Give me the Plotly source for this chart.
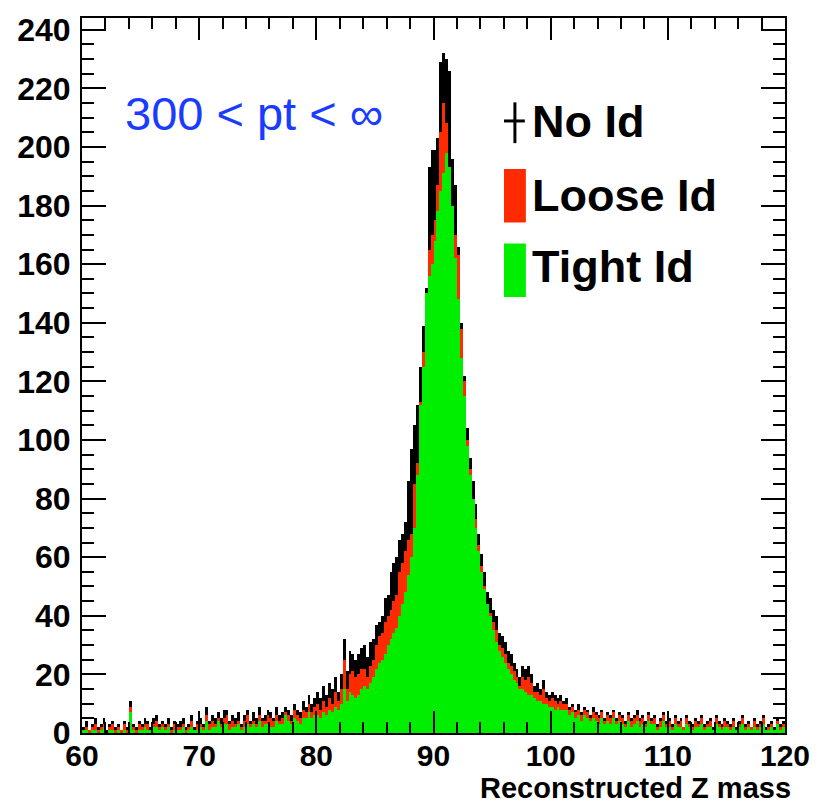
import numpy as np
import plotly.graph_objects as go

# ---------------- data ----------------
BIN_LO, BIN_HI, NBINS = 60.0, 120.0, 240

no_id = [
    2,4,1,3,5,2,3,5,1,3,4,2,3,1,4,2,11,3,2,4,
    3,5,4,2,5,6,3,4,3,5,2,4,3,4,5,2,3,6,2,4,
    5,3,9,4,6,5,7,5,8,8,4,6,5,7,3,6,8,4,7,5,
    9,5,6,8,7,5,9,6,7,9,8,6,10,8,7,11,9,13,10,12,
    14,12,16,13,17,15,19,14,20,32,21,28,27,25,27,29,
    30,26,31,32,37,38,40,46,47,55,58,60,66,68,72,86,
    97,105,112,125,139,152,193,199,199,203,229,232,230,226,196,187,
    166,140,122,104,94,86,78,68,61,55,48,46,42,40,34,33,
    31,28,27,24,22,19,23,22,23,20,16,17,15,18,14,13,14,13,12,13,
    11,12,9,10,8,10,7,9,8,6,9,7,6,8,5,7,
    6,8,5,7,6,4,7,5,6,8,5,6,4,7,5,6,3,5,7,4,
    5,3,6,4,5,2,6,4,3,5,4,6,3,4,5,2,6,4,3,5,
    4,3,5,2,4,6,3,4,2,5,3,4,6,2,3,4,2,5,3,4,
]

loose_id = [
    1,2,1,2,3,1,2,3,0,2,3,1,2,1,3,1,9,2,1,3,
    2,3,3,1,3,4,2,3,2,3,1,3,2,2,3,1,2,4,1,3,
    3,2,6,3,4,3,5,3,5,6,3,4,3,4,2,4,6,3,4,3,
    6,4,4,6,5,4,6,4,5,7,6,4,8,6,5,8,7,10,7,9,
    10,8,11,9,12,10,14,11,15,25,15,20,21,19,20,22,
    22,19,23,25,30,33,34,38,40,42,45,47,55,58,62,66,
    68,85,92,113,130,150,165,170,175,187,205,215,208,193,180,170,
    163,138,120,100,90,80,73,64,57,50,44,41,38,35,30,29,
    27,24,23,21,19,16,19,18,19,17,14,14,13,15,12,11,12,11,10,11,
    10,10,8,9,7,8,6,8,7,5,7,6,5,7,4,6,
    5,7,4,6,5,3,6,4,5,6,4,5,3,6,4,5,2,4,6,3,
    4,2,5,3,4,2,5,3,2,4,3,5,2,3,4,1,5,3,2,4,
    3,2,4,1,3,5,2,3,2,4,2,3,5,1,2,3,1,4,2,3,
]

tight_id = [
    1,1,0,1,1,0,1,2,0,1,1,0,1,0,1,0,7,1,0,1,
    1,2,1,1,2,2,1,2,1,2,0,1,1,1,2,0,1,2,1,1,
    2,1,4,1,2,2,4,2,3,3,1,2,2,3,1,2,3,2,3,2,
    4,2,3,3,2,2,4,3,3,6,4,3,5,4,3,5,5,7,5,6,
    6,5,7,6,8,7,9,8,10,15,11,14,13,12,13,15,
    16,15,17,19,22,24,25,27,30,32,34,36,40,44,48,54,
    60,70,88,112,125,150,156,160,168,178,185,191,198,193,180,162,
    148,128,115,98,88,80,70,62,55,49,44,40,35,31,28,26,
    24,22,20,18,17,15,15,14,13,13,12,11,11,10,10,9,9,8,9,8,
    8,8,6,7,5,6,4,6,5,4,5,4,3,5,3,4,
    3,5,3,4,3,2,4,2,3,4,2,3,2,4,3,3,1,2,4,2,
    2,1,3,2,2,1,3,2,1,2,2,3,1,2,2,1,3,2,1,2,
    2,1,2,1,2,3,1,2,1,2,1,2,3,1,1,2,1,3,1,2,
]

series_names = ["No Id", "Loose Id", "Tight Id"]
x_title = "Reconstructed Z mass"
pt_label = "300 < pt < \u221e"

assert len(no_id) == len(loose_id) == len(tight_id) == NBINS

width = (BIN_HI - BIN_LO) / NBINS
centers = BIN_LO + width * (np.arange(NBINS) + 0.5)

RED = "#ff2a00"
GREEN = "#00ee00"
FONT = "Liberation Sans"

fig = go.Figure()
for vals, name, col in [(no_id, series_names[0], "black"),
                        (loose_id, series_names[1], RED),
                        (tight_id, series_names[2], GREEN)]:
    fig.add_trace(go.Bar(x=centers, y=vals, width=width, name=name,
                         marker=dict(color=col, line=dict(width=0)),
                         showlegend=False))

axis_common = dict(showgrid=False, zeroline=False, showline=True, linecolor="black",
                   linewidth=2, mirror="allticks", ticks="inside", tickcolor="black",
                   tickwidth=2)

fig.update_xaxes(range=[60, 120], tickmode="linear", tick0=60, dtick=10, ticklen=22,
                 minor=dict(ticks="inside", ticklen=11, dtick=2, tickcolor="black", tickwidth=2),
                 ticklabelstandoff=-5,
                 tickfont=dict(family=FONT, size=30, color="black", weight="bold"),
                 **axis_common)
fig.update_yaxes(range=[0, 244], tickmode="linear", tick0=0, dtick=20, ticklen=24,
                 minor=dict(ticks="inside", ticklen=12, dtick=5, tickcolor="black", tickwidth=2),
                 ticklabelstandoff=3,
                 tickfont=dict(family=FONT, size=32, color="black", weight="bold"),
                 **axis_common)

annotations = [
    dict(x=1.012, y=-0.1022, xref="paper", yref="paper", xanchor="right", yanchor="bottom",
         text=x_title, showarrow=False,
         font=dict(family=FONT, size=29, color="black", weight="bold")),
    dict(x=0.058, y=0.866, xref="paper", yref="paper", xanchor="left", yanchor="middle",
         text=pt_label, showarrow=False,
         font=dict(family=FONT, size=47, color="#1a3cff")),
]
leg_y = [0.8556, 0.7514, 0.6528]
for nm, yy in zip(series_names, leg_y):
    annotations.append(dict(x=0.637, y=yy, xref="paper", yref="paper", xanchor="left",
                            yanchor="middle", text=nm, showarrow=False,
                            font=dict(family=FONT, size=45, color="black", weight="bold")))

shapes = [
    # No Id marker (error-bar cross)
    dict(type="line", xref="paper", yref="paper", x0=0.6158, x1=0.6158, y0=0.8250, y1=0.8820,
         line=dict(color="black", width=3)),
    dict(type="line", xref="paper", yref="paper", x0=0.6003, x1=0.6299, y0=0.8560, y1=0.8560,
         line=dict(color="black", width=3)),
    # Loose Id box
    dict(type="rect", xref="paper", yref="paper", x0=0.6003, x1=0.6314, y0=0.7139, y1=0.7889,
         fillcolor=RED, line=dict(width=0)),
    # Tight Id box
    dict(type="rect", xref="paper", yref="paper", x0=0.6003, x1=0.6314, y0=0.6097, y1=0.6847,
         fillcolor=GREEN, line=dict(width=0)),
]

fig.update_layout(width=822, height=807, margin=dict(l=82, r=32, t=13, b=74),
                  plot_bgcolor="white", paper_bgcolor="white",
                  barmode="overlay", bargap=0,
                  annotations=annotations, shapes=shapes)

fig.write_html("out.html")
